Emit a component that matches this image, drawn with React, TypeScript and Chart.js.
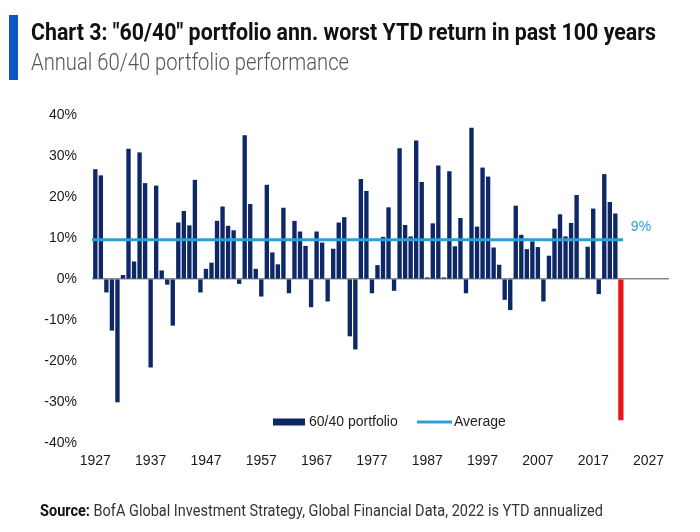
import React, { useEffect, useRef } from "react";
import { Chart, registerables } from "chart.js";

Chart.register(...registerables);

const years = [
  1927, 1928, 1929, 1930, 1931, 1932, 1933, 1934, 1935, 1936,
  1937, 1938, 1939, 1940, 1941, 1942, 1943, 1944, 1945, 1946,
  1947, 1948, 1949, 1950, 1951, 1952, 1953, 1954, 1955, 1956,
  1957, 1958, 1959, 1960, 1961, 1962, 1963, 1964, 1965, 1966,
  1967, 1968, 1969, 1970, 1971, 1972, 1973, 1974, 1975, 1976,
  1977, 1978, 1979, 1980, 1981, 1982, 1983, 1984, 1985, 1986,
  1987, 1988, 1989, 1990, 1991, 1992, 1993, 1994, 1995, 1996,
  1997, 1998, 1999, 2000, 2001, 2002, 2003, 2004, 2005, 2006,
  2007, 2008, 2009, 2010, 2011, 2012, 2013, 2014, 2015, 2016,
  2017, 2018, 2019, 2020, 2021, 2022,
];

const returns = [
  26.7, 25.2, -3.2, -12.5, -30.0, 0.9, 31.7, 4.2, 30.8, 23.3,
  -21.5, 22.7, 2.0, -1.3, -11.3, 13.7, 16.5, 13.0, 24.1, -3.2,
  2.4, 3.9, 14.1, 17.6, 12.9, 11.8, -1.1, 35.0, 18.2, 2.4,
  -4.2, 22.9, 6.4, 3.5, 17.3, -3.4, 14.1, 11.5, 8.0, -6.8,
  11.5, 8.8, -5.4, 7.3, 13.7, 15.0, -13.9, -17.1, 24.3, 21.4,
  -3.4, 3.3, 10.2, 17.4, -2.8, 31.8, 13.1, 10.3, 33.7, 23.6,
  0.3, 13.5, 27.6, 0.3, 26.2, 7.9, 14.8, -3.4, 36.8, 12.7,
  27.1, 24.9, 7.6, 3.4, -5.0, -7.5, 17.8, 10.7, 7.2, 9.1,
  7.7, -5.4, 5.6, 12.2, 15.7, 10.3, 13.6, 20.4, 0.2, 7.8,
  17.1, -3.6, 25.5, 18.7, 15.9, -34.4,
];

const averageReturn = 9.6;
const averageLabel = "9%";
const highlightYear = 2022;

const xTickYears = [1927, 1937, 1947, 1957, 1967, 1977, 1987, 1997, 2007, 2017, 2027];
const yTickValues = [-40, -30, -20, -10, 0, 10, 20, 30, 40];

const seriesName = "60/40 portfolio";
const averageName = "Average";
const titleText = 'Chart 3: "60/40" portfolio ann. worst YTD return in past 100 years';
const subtitleText = "Annual 60/40 portfolio performance";
const sourceBold = "Source:";
const sourceRest = " BofA Global Investment Strategy, Global Financial Data, 2022 is YTD annualized";

const NAVY = "#0d2767";
const LIGHT_BLUE = "#2a9fd8";
const RED = "#e8141b";

const X_MIN = 1926.4;
const X_MAX = 2030.7;

function drawFit(ctx: CanvasRenderingContext2D, text: string, x: number, y: number, width: number, font: string, color: string) {
  ctx.save();
  ctx.font = font;
  ctx.fillStyle = color;
  ctx.textAlign = "left";
  ctx.textBaseline = "alphabetic";
  const w = ctx.measureText(text).width;
  ctx.translate(x, y);
  ctx.scale(width / w, 1);
  ctx.fillText(text, 0, 0);
  ctx.restore();
}

const decorPlugin = {
  id: "decor",
  afterDraw(chart: any) {
    const ctx: CanvasRenderingContext2D = chart.ctx;
    ctx.save();
    ctx.fillStyle = "#0b56c4";
    ctx.fillRect(9, 15, 9, 65);
    ctx.restore();

    drawFit(ctx, titleText, 31, 39.5, 625, "bold 24px Roboto, 'Liberation Sans', sans-serif", "#111111");
    drawFit(ctx, subtitleText, 31, 69.5, 318, "300 23px Roboto, 'Liberation Sans', sans-serif", "#555555");

    ctx.save();
    const boldFont = "bold 17px Roboto, 'Liberation Sans', sans-serif";
    const regFont = "17px Roboto, 'Liberation Sans', sans-serif";
    ctx.font = boldFont;
    const wb = ctx.measureText(sourceBold).width;
    ctx.font = regFont;
    const wr = ctx.measureText(sourceRest).width;
    const k = (603 - 40) / (wb + wr);
    ctx.translate(40, 515.5);
    ctx.scale(k, 1);
    ctx.fillStyle = "#111111";
    ctx.font = boldFont;
    ctx.fillText(sourceBold, 0, 0);
    ctx.fillStyle = "#333333";
    ctx.font = regFont;
    ctx.fillText(sourceRest, wb, 0);
    ctx.restore();

    ctx.save();
    ctx.fillStyle = NAVY;
    ctx.fillRect(273, 418.5, 32, 7);
    ctx.font = "14px 'Liberation Sans', Arial, sans-serif";
    ctx.fillStyle = "#222222";
    ctx.textBaseline = "middle";
    ctx.fillText(seriesName, 309, 422);
    ctx.strokeStyle = LIGHT_BLUE;
    ctx.lineWidth = 3;
    ctx.beginPath();
    ctx.moveTo(417, 422);
    ctx.lineTo(452, 422);
    ctx.stroke();
    ctx.fillText(averageName, 454, 422);
    ctx.restore();

    const xs = chart.scales.x;
    const ys = chart.scales.y;
    ctx.save();
    ctx.font = "14px 'Liberation Sans', Arial, sans-serif";
    ctx.fillStyle = LIGHT_BLUE;
    ctx.textBaseline = "middle";
    ctx.fillText(averageLabel, xs.getPixelForValue(years[years.length - 1]) + 10, ys.getPixelForValue(averageReturn) - 12.5);
    ctx.restore();
  },
};

export default function App() {
  const canvasRef = useRef<HTMLCanvasElement | null>(null);

  useEffect(() => {
    if (!canvasRef.current) return;
    const allPoints = years.map((yr, i) => ({ x: yr, y: returns[i] }));
    const navyData = allPoints.filter((p) => p.x !== highlightYear);
    const redData = allPoints.filter((p) => p.x === highlightYear);
    const lastYear = years[years.length - 1];
    const chart = new Chart(canvasRef.current, {
      type: "bar",
      data: {
        datasets: [
          {
            type: "line",
            label: averageName,
            data: [
              { x: X_MIN, y: averageReturn },
              { x: lastYear + 0.4, y: averageReturn },
            ],
            borderColor: LIGHT_BLUE,
            borderWidth: 3,
            pointRadius: 0,
            order: 0,
          } as any,
          {
            type: "bar",
            label: seriesName,
            data: navyData,
            backgroundColor: NAVY,
            barThickness: 3.7,
            grouped: false,
            order: 1,
          } as any,
          {
            type: "bar",
            label: String(highlightYear),
            data: redData,
            backgroundColor: RED,
            barThickness: 4.6,
            grouped: false,
            order: 1,
          } as any,
        ],
      },
      options: {
        animation: false,
        responsive: false,
        devicePixelRatio: 1,
        layout: { padding: { left: 0, right: 31, top: 115, bottom: 0 } },
        plugins: {
          legend: { display: false },
          tooltip: { enabled: false },
          title: { display: false },
        },
        scales: {
          x: {
            type: "linear",
            min: X_MIN,
            max: X_MAX,
            offset: false,
            grid: { display: false, drawTicks: false },
            border: { display: false },
            afterBuildTicks: (s: any) => {
              s.ticks = xTickYears.map((v) => ({ value: v }));
            },
            afterFit: (s: any) => {
              s.height = 89;
            },
            ticks: {
              autoSkip: false,
              maxRotation: 0,
              padding: 10,
              color: "#1a1a1a",
              font: { family: "'Liberation Sans', Arial, sans-serif", size: 14 },
              callback: (v: any) => String(v),
            },
          },
          y: {
            min: -40,
            max: 40,
            afterBuildTicks: (s: any) => {
              s.ticks = yTickValues.map((v) => ({ value: v }));
            },
            afterFit: (s: any) => {
              s.width = 92;
            },
            grid: {
              drawTicks: false,
              lineWidth: 1.5,
              color: (c: any) => (c.tick && c.tick.value === 0 ? "#8a8a8a" : "rgba(0,0,0,0)"),
            },
            border: { display: false },
            ticks: {
              padding: 15,
              color: "#1a1a1a",
              font: { family: "'Liberation Sans', Arial, sans-serif", size: 14 },
              callback: (v: any) => `${v}%`,
            },
          },
        },
      },
      plugins: [decorPlugin],
    } as any);
    return () => chart.destroy();
  }, []);

  return (
    <div style={{ position: "absolute", left: 0, top: 0, width: 700, height: 532, background: "#ffffff" }}>
      <canvas ref={canvasRef} width={700} height={532} style={{ display: "block", width: 700, height: 532 }} />
    </div>
  );
}
